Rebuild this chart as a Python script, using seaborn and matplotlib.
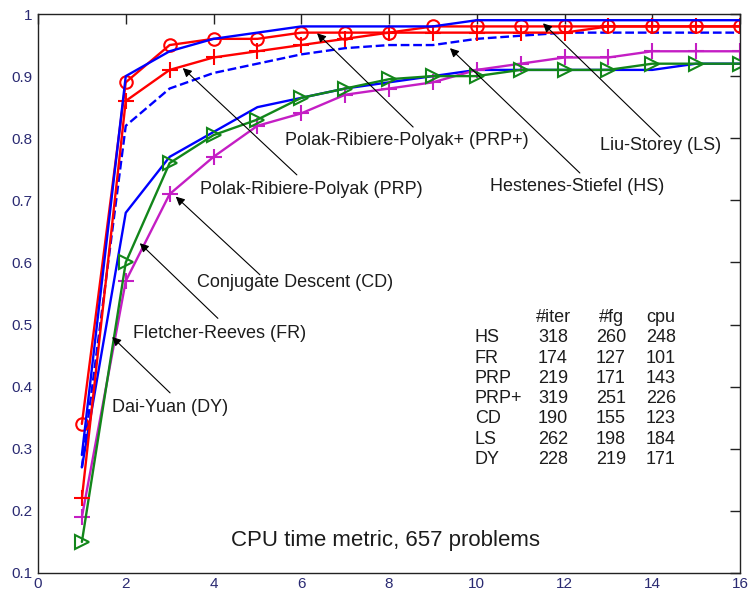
import matplotlib
matplotlib.use("Agg")
import matplotlib.pyplot as plt
from matplotlib.ticker import FuncFormatter
import seaborn as sns
import pandas as pd

# Performance profile data: fraction of problems solved vs. CPU-time factor
steps = list(range(1, 17))

hs       = [0.27, 0.82, 0.88, 0.905, 0.92, 0.935, 0.945, 0.95, 0.95, 0.96, 0.965, 0.97, 0.97, 0.97, 0.97, 0.97]
fr       = [0.15, 0.60, 0.76, 0.805, 0.83, 0.865, 0.88, 0.895, 0.90, 0.90, 0.91, 0.91, 0.91, 0.92, 0.92, 0.92]
prp      = [0.22, 0.86, 0.91, 0.93, 0.94, 0.95, 0.96, 0.97, 0.97, 0.97, 0.97, 0.97, 0.98, 0.98, 0.98, 0.98]
prp_plus = [0.34, 0.89, 0.95, 0.96, 0.96, 0.97, 0.97, 0.97, 0.98, 0.98, 0.98, 0.98, 0.98, 0.98, 0.98, 0.98]
cd       = [0.19, 0.57, 0.71, 0.77, 0.82, 0.84, 0.87, 0.88, 0.89, 0.91, 0.92, 0.93, 0.93, 0.94, 0.94, 0.94]
ls       = [0.29, 0.90, 0.94, 0.96, 0.97, 0.98, 0.98, 0.98, 0.98, 0.99, 0.99, 0.99, 0.99, 0.99, 0.99, 0.99]
dy       = [0.27, 0.68, 0.77, 0.81, 0.85, 0.865, 0.88, 0.89, 0.90, 0.91, 0.91, 0.91, 0.91, 0.91, 0.92, 0.92]

x_ticks = [0, 2, 4, 6, 8, 10, 12, 14, 16]
y_ticks = [0.1, 0.2, 0.3, 0.4, 0.5, 0.6, 0.7, 0.8, 0.9, 1.0]

# Summary table
table_methods = ["HS", "FR", "PRP", "PRP+", "CD", "LS", "DY"]
table_iter    = [318, 174, 219, 319, 190, 262, 228]
table_fg      = [260, 127, 171, 251, 155, 198, 219]
table_cpu     = [248, 101, 143, 226, 123, 184, 171]
table_header  = ["#iter", "#fg", "cpu"]

series = {"HS": hs, "FR": fr, "PRP": prp, "PRP+": prp_plus,
          "CD": cd, "LS": ls, "DY": dy}

df = pd.DataFrame([(m, s, v) for m, vals in series.items() for s, v in zip(steps, vals)],
                  columns=["method", "step", "ratio"])

RED, BLUE, GREEN, MAG = "#ff0000", "#0000ff", "#12861a", "#c41ec4"
styles = {
    "DY":   dict(color=BLUE, linestyle="-", marker=None),
    "CD":   dict(color=MAG, linestyle="-", marker="+", markersize=11),
    "FR":   dict(color=GREEN, linestyle="-", marker=">", markersize=10),
    "HS":   dict(color=BLUE, linestyle="--", marker=None),
    "PRP":  dict(color=RED, linestyle="-", marker="+", markersize=11),
    "PRP+": dict(color=RED, linestyle="-", marker="o", markersize=9),
    "LS":   dict(color=BLUE, linestyle="-", marker=None),
}

sns.set_style("white")
plt.rcParams["font.family"] = ["Liberation Sans", "DejaVu Sans"]

fig = plt.figure(figsize=(7.5, 5.96), dpi=100)
ax = fig.add_axes([38 / 750, 1 - 573 / 596, 702 / 750, 559 / 596])

for name, st in styles.items():
    sub = df[df["method"] == name]
    kws = dict(linewidth=1.7, color=st["color"], linestyle=st["linestyle"])
    if st["marker"]:
        kws.update(marker=st["marker"], markersize=st["markersize"],
                   markerfacecolor="none", markeredgecolor=st["color"],
                   markeredgewidth=1.5)
    sns.lineplot(data=sub, x="step", y="ratio", ax=ax, legend=False, **kws)

ax.set_xlim(0, 16)
ax.set_ylim(0.1, 1.0)
ax.set_xticks(x_ticks)
ax.set_yticks(y_ticks)
ax.xaxis.set_major_formatter(FuncFormatter(lambda v, _: f"{v:g}"))
ax.yaxis.set_major_formatter(FuncFormatter(lambda v, _: f"{v:g}"))
ax.set_xlabel("")
ax.set_ylabel("")
ax.tick_params(direction="in", length=7, width=1, top=True, right=True,
               labelsize=11, labelcolor="#2a2a72", color="#222222")
ax.tick_params(axis="y", pad=4)
ax.tick_params(axis="x", pad=3)
for sp in ax.spines.values():
    sp.set_visible(True)
    sp.set_color("#222222")
    sp.set_linewidth(1.0)

TXT = "#1c1c1c"
arrow = dict(arrowstyle="-|>", color="black", lw=0.8, mutation_scale=13,
             shrinkA=0, shrinkB=0)

# (label, arrow tip, arrow tail, text anchor at left/center)
labels = [
    ("Polak-Ribiere-Polyak+ (PRP+)", (6.36, 0.969), (8.55, 0.818), (5.63, 0.797)),
    ("Liu-Storey (LS)",              (11.51, 0.985), (14.18, 0.802), (12.81, 0.789)),
    ("Hestenes-Stiefel (HS)",        (9.39, 0.945), (12.35, 0.744), (10.30, 0.722)),
    ("Polak-Ribiere-Polyak (PRP)",   (3.30, 0.913), (5.90, 0.741), (3.69, 0.717)),
    ("Conjugate Descent (CD)",       (3.14, 0.706), (5.06, 0.580), (3.62, 0.567)),
    ("Fletcher-Reeves (FR)",         (2.32, 0.631), (4.10, 0.510), (2.17, 0.486)),
    ("Dai-Yuan (DY)",                (1.69, 0.480), (3.01, 0.390), (1.69, 0.366)),
]
for text, tip, tail, pos in labels:
    ax.annotate("", xy=tip, xytext=tail, arrowprops=arrow)
    ax.text(pos[0], pos[1], text, fontsize=13, color=TXT, ha="left", va="center")

ax.text(7.93, 0.153, "CPU time metric, 657 problems", fontsize=16, color=TXT,
        ha="center", va="center")

# Summary table, placed in axes-fraction coordinates
def fx(px):
    return (px - 38) / 702

def fy(py):
    return 1 - (py - 14) / 559

col_x = [fx(553), fx(611), fx(661)]
for cx, h in zip(col_x, table_header):
    ax.text(cx, fy(318), h, transform=ax.transAxes, fontsize=13, color=TXT,
            ha="center", va="center")
for i, m in enumerate(table_methods):
    yy = fy(338 + 20.2 * i)
    ax.text(fx(475), yy, m, transform=ax.transAxes, fontsize=13, color=TXT,
            ha="left", va="center")
    for cx, val in zip(col_x, (table_iter[i], table_fg[i], table_cpu[i])):
        ax.text(cx, yy, str(val), transform=ax.transAxes, fontsize=13, color=TXT,
                ha="center", va="center")

fig.savefig("out.png", dpi=100, facecolor="white")
